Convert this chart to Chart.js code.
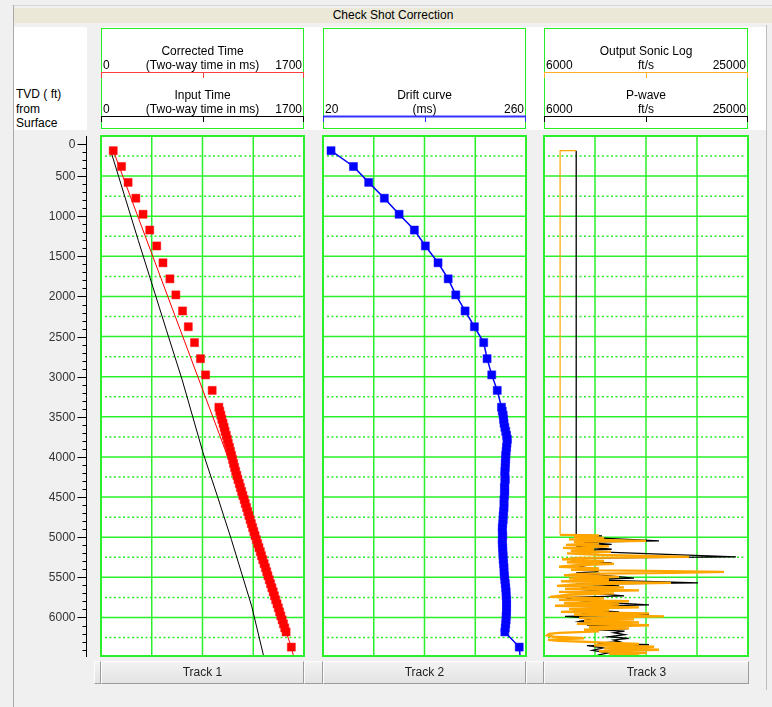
<!DOCTYPE html>
<html>
<head>
<meta charset="utf-8">
<title>Check Shot Correction</title>
<script src="https://cdn.jsdelivr.net/npm/chart.js@4.4.1/dist/chart.umd.min.js"></script>
<style>
  html, body { margin: 0; padding: 0; }
  body {
    width: 772px; height: 707px; position: relative; overflow: hidden;
    background: #f0f0f0;
    font-family: "Liberation Sans", Arial, sans-serif; font-size: 12px; color: #000;
  }
  .abs { position: absolute; }
  #frameLeft { left: 13px; top: 5px; width: 1px; height: 702px; background: #a9a9a9; }
  #frameTop { left: 13px; top: 5px; width: 759px; height: 1px; background: #d8d8d8; }
  #frameRight { left: 766px; top: 25px; width: 1px; height: 665px; background: #bdbdbd; }
  #titleBar {
    left: 14px; top: 8px; width: 758px; height: 15px; line-height: 15px;
    background: #ebe8d8; text-align: center;
  }
  #headerPanel { left: 14px; top: 27px; width: 752px; height: 103px; background: #fff; }
  #headerGap { left: 87px; top: 27px; width: 14px; height: 103px; background: #f0f0f0; }
  #depthLabel { left: 16px; top: 87px; line-height: 14.5px; }
  canvas { position: absolute; left: 0; top: 0; }
  .btn {
    position: absolute; top: 661px; height: 23px; line-height: 21px;
    box-sizing: border-box; text-align: center; color: #222;
    border: 1px solid; border-color: #fdfdfd #9c9c9c #9c9c9c #fdfdfd;
    background: linear-gradient(#f3f3f3, #e3e3e3);
  }
</style>
</head>
<body>
<div id="frameTop" class="abs"></div>
<div id="frameLeft" class="abs"></div>
<div id="titleBar" class="abs">Check Shot Correction</div>
<div id="headerPanel" class="abs"></div>
<div id="headerGap" class="abs"></div>
<div id="frameRight" class="abs"></div>
<div id="depthLabel" class="abs">TVD ( ft)<br>from<br>Surface</div>

<canvas id="track1" width="772" height="707"></canvas>
<canvas id="track2" width="772" height="707"></canvas>
<canvas id="track3" width="772" height="707"></canvas>

<div class="btn" style="left:94px;width:7px"></div>
<div class="btn" style="left:101px;width:203px">Track 1</div>
<div class="btn" style="left:304px;width:19px"></div>
<div class="btn" style="left:323px;width:203px">Track 2</div>
<div class="btn" style="left:526px;width:18px"></div>
<div class="btn" style="left:544px;width:205px">Track 3</div>

<script>
// depth axis (TVD, ft)
const depthMax = 6480;
const depthLabels = [0, 500, 1000, 1500, 2000, 2500, 3000, 3500, 4000, 4500, 5000, 5500, 6000];
const depthMinorStep = 100;

// track scale ranges
const track1Range = [0, 1700];
const track2Range = [20, 260];
const track3Range = [6000, 25000];

// check shots: depth (ft), corrected two-way time (ms), drift (ms)
const shotDepth = [
  183, 380, 578, 775, 975, 1172, 1370, 1580, 1780, 1980,
  2180, 2377, 2575, 2775, 2977, 3170,
  3380, 3430, 3480, 3530, 3580, 3630, 3680, 3730, 3780, 3830,
  3880, 3930, 3980, 4030, 4080, 4130, 4180, 4230, 4280, 4330,
  4380, 4430, 4480, 4530, 4580, 4630, 4680, 4730, 4780, 4830,
  4880, 4930, 4980, 5030, 5080, 5130, 5180, 5230, 5280, 5330,
  5380, 5430, 5480, 5530, 5580, 5630, 5680, 5730, 5780, 5830,
  5880, 5930, 5980, 6030, 6080, 6130, 6180,
  6369
];
const shotTime = [
  102.5, 172, 227, 292, 352, 408, 467, 519, 577, 627,
  683, 731, 783, 833, 876, 931,
  987, 995, 1004, 1012, 1022, 1031, 1039, 1049, 1058, 1066,
  1076, 1084, 1093, 1102, 1110, 1119, 1128, 1138, 1147, 1158,
  1167, 1178, 1188, 1199, 1208, 1219, 1229, 1239, 1249, 1259,
  1270, 1280, 1290, 1301, 1312, 1323, 1334, 1344, 1355, 1366,
  1377, 1388, 1398, 1409, 1420, 1431, 1442, 1452, 1463, 1474,
  1485, 1496, 1506, 1517, 1528, 1539, 1550,
  1594
];
const shotDrift = [
  29.5, 56, 74, 92.5, 110, 128, 141, 156, 168, 177,
  188, 199, 210, 214, 219.5, 226,
  231, 232, 233, 233.5, 234, 235, 236, 237, 238, 237.5,
  237, 236.5, 236, 236, 235.5, 235.5, 235, 235, 235.5, 235,
  234.5, 235, 234.5, 234, 234, 234, 233.5, 233, 233, 232.5,
  232, 232, 232.5, 232, 232, 232.5, 232.5, 233, 233, 233.5,
  234, 234, 234.5, 235, 235.5, 236, 236.5, 236.5, 237, 237,
  237, 237, 236.5, 236.5, 236, 235.5, 235,
  252
];
const driftTailDepth = 6480;
const driftTailValue = 253;

// input time curve (black) and corrected time curve (red)
const inputDepth = [153, 1300, 2420, 3040, 3950, 4490, 5030, 5860, 6480];
const inputTime = [75, 312, 548, 680, 855, 975, 1092, 1262, 1362];
const correctedDepth = [183, 3995, 4300, 5030, 6180, 6369, 6480];
const correctedTime = [102.5, 1061, 1150, 1301, 1550, 1594, 1612];

// output sonic log (orange), ft/s; the first three samples are the flat upper section
const sonicDepth = [
  183, 183, 4970,
  4976, 4995, 5007, 5026, 5045, 5057, 5076, 5094, 5113, 5132,
  5150, 5169, 5182, 5200, 5219, 5244, 5256, 5275, 5294, 5312,
  5331, 5350, 5368, 5387, 5406, 5431, 5443, 5456, 5474, 5493,
  5512, 5530, 5549, 5568, 5587, 5605, 5624, 5643, 5661, 5680,
  5699, 5717, 5742, 5761, 5780, 5798, 5817, 5836, 5854, 5873,
  5892, 5910, 5929, 5948, 5966, 5985, 6004, 6023, 6041, 6060,
  6078, 6097, 6116, 6135, 6153, 6172, 6191, 6203, 6222, 6240,
  6259, 6278, 6290, 6309, 6328, 6346, 6365, 6384, 6402, 6421,
  6440, 6458, 6471
];
const sonicVel = [
  9000, 7500, 7500,
  11120, 8790, 11590, 8330, 15500, 8790, 11120, 8050, 12050, 7770,
  10660, 8520, 12240, 8140, 11120, 19500, 9260, 7680, 11590, 8140,
  12520, 8790, 7400, 11120, 8520, 22760, 17900, 9260, 7860, 12990,
  8330, 12050, 7580, 17830, 8790, 7210, 13450, 7960, 14850, 7400,
  12520, 8330, 6560, 11590, 7400, 13920, 7860, 12990, 7030, 14850,
  8330, 12050, 7580, 15780, 8790, 17180, 9260, 14380, 9730, 14850,
  9070, 15780, 10190, 13920, 9730, 11120, 7400, 6470, 6280, 6930,
  9730, 6370, 7400, 11120, 14850, 10660, 16250, 11590, 16710, 11120,
  15590, 12050, 14850
];
const sonicFlatCount = 3;

// P-wave input log (black), ft/s
const pwaveDepth = [
  183, 4970, 4982, 4995, 5045, 5060, 5070, 5090, 5110, 5150,
  5170, 5244, 5260, 5280, 5300, 5320, 5350, 5400, 5430, 5445,
  5510, 5530, 5550, 5568, 5585, 5605, 5630, 5655, 5680, 5730,
  5750, 5780, 5800, 5842, 5860, 5880, 5900, 5929, 5950, 5966,
  5985, 6010, 6050, 6060, 6080, 6095, 6110, 6125, 6140, 6155,
  6170, 6190, 6215, 6240, 6260, 6280, 6300, 6320, 6340, 6350,
  6380, 6410, 6440, 6470
];
const pwaveVel = [
  9000, 9000, 11400, 9000, 16710, 9700, 10500, 12300, 9000, 12300,
  8500, 23880, 9000, 9500, 8500, 12300, 9000, 10650, 11000, 9000,
  14380, 9500, 15500, 20340, 9000, 13000, 9500, 11590, 9000, 13450,
  8000, 8790, 10000, 15780, 9500, 13000, 9000, 12990, 9500, 15780,
  7960, 10650, 9260, 10660, 13900, 10000, 13900, 10200, 13800, 11000,
  13500, 12500, 13500, 12000, 13900, 12500, 13000, 11000, 15780, 10000,
  11500, 10500, 12000, 11000
];

const gridGreen = '#2af02a';
const FONT = '12px "Liberation Sans", Arial, sans-serif';

function pts(depths, values) {
  return depths.map((d, i) => ({ x: values[i], y: d }));
}

// white plot area, grid, border, the header block above and (track 1) the depth axis
const trackDecor = {
  id: 'trackDecor',
  beforeDraw(chart) {
    const a = chart.chartArea, ctx = chart.ctx;
    const xs = chart.scales.x, ys = chart.scales.y;
    ctx.save();
    ctx.fillStyle = '#fff';
    ctx.fillRect(a.left, a.top, a.right - a.left, a.bottom - a.top);

    ctx.strokeStyle = gridGreen;
    ctx.lineWidth = 1.5;
    for (let k = 1; k < 4; k++) {
      const px = xs.getPixelForValue(xs.min + k * (xs.max - xs.min) / 4);
      ctx.beginPath(); ctx.moveTo(px, a.top); ctx.lineTo(px, a.bottom); ctx.stroke();
    }
    const step = depthLabels[1] - depthLabels[0];
    depthLabels.forEach(d => {
      if (d > 0) {
        const py = ys.getPixelForValue(d);
        ctx.setLineDash([]);
        ctx.beginPath(); ctx.moveTo(a.left, py); ctx.lineTo(a.right, py); ctx.stroke();
      }
      if (d + step / 2 < depthMax) {
        const py = ys.getPixelForValue(d + step / 2);
        ctx.setLineDash([2, 2.5]);
        ctx.beginPath(); ctx.moveTo(a.left + 4, py); ctx.lineTo(a.right - 2, py); ctx.stroke();
      }
    });
    ctx.restore();
  },
  afterDraw(chart, args, opts) {
    const a = chart.chartArea, ctx = chart.ctx;
    const xs = chart.scales.x, ys = chart.scales.y;
    ctx.save();
    ctx.strokeStyle = gridGreen;
    ctx.lineWidth = 2;
    ctx.strokeRect(a.left, a.top, a.right - a.left, a.bottom - a.top);

    // header box
    ctx.lineWidth = 1;
    ctx.strokeStyle = '#22ee22';
    ctx.strokeRect(a.left + 0.5, 28.5, a.right - a.left - 1, 100);
    ctx.font = FONT;
    ctx.fillStyle = '#000';
    (opts.header || []).forEach(h => {
      const off = h.row * 44;
      const mid = (a.left + a.right) / 2;
      ctx.textBaseline = 'middle';
      ctx.textAlign = 'center';
      ctx.fillText(h.title, mid, 51.5 + off);
      ctx.fillText(h.unit, mid, 66 + off);
      ctx.textAlign = 'left';
      ctx.fillText(String(xs.min), a.left + 2, 66 + off);
      ctx.textAlign = 'right';
      ctx.fillText(String(xs.max), a.right - 2, 66 + off);

      const ly = 72.5 + off;
      ctx.strokeStyle = h.color;
      ctx.lineWidth = h.width || 1;
      ctx.beginPath(); ctx.moveTo(a.left, ly); ctx.lineTo(a.right, ly); ctx.stroke();
      ctx.lineWidth = 1;
      [xs.min, (xs.min + xs.max) / 2, xs.max].forEach(v => {
        const px = Math.min(Math.max(Math.round(xs.getPixelForValue(v)) + 0.5, a.left + 0.5), a.right - 0.5);
        ctx.beginPath(); ctx.moveTo(px, ly); ctx.lineTo(px, ly + 5.5); ctx.stroke();
      });
    });

    if (opts.depthAxis) {
      const ax = a.left - 14.5;
      ctx.strokeStyle = '#000';
      ctx.lineWidth = 1;
      ctx.beginPath(); ctx.moveTo(ax, a.top); ctx.lineTo(ax, a.bottom + 1); ctx.stroke();
      const step = depthLabels[1] - depthLabels[0];
      for (let d = depthMinorStep; d < depthMax; d += depthMinorStep) {
        if (d % step === 0) continue;
        const py = Math.round(ys.getPixelForValue(d)) + 0.5;
        ctx.beginPath(); ctx.moveTo(ax - 4, py); ctx.lineTo(ax, py); ctx.stroke();
      }
      ctx.fillStyle = '#333';
      ctx.textAlign = 'right';
      ctx.textBaseline = 'middle';
      depthLabels.forEach(d => {
        const py = Math.round(Math.max(ys.getPixelForValue(d), a.top + 8)) + 0.5;
        ctx.beginPath(); ctx.moveTo(ax - 9, py); ctx.lineTo(ax, py); ctx.stroke();
        ctx.fillText(String(d), ax - 11, py);
      });
    }
    ctx.restore();
  }
};

function trackChart(id, range, datasets, decor, padLeft, padRight) {
  return new Chart(document.getElementById(id), {
    type: 'scatter',
    data: { datasets: datasets },
    options: {
      responsive: false,
      animation: false,
      events: [],
      layout: { padding: { left: padLeft, right: padRight, top: 136, bottom: 51 } },
      scales: {
        x: { type: 'linear', min: range[0], max: range[1], display: false },
        y: { type: 'linear', min: 0, max: depthMax, reverse: true, display: false }
      },
      elements: { line: { tension: 0 } },
      plugins: {
        legend: { display: false },
        tooltip: { enabled: false },
        trackDecor: decor
      }
    },
    plugins: [trackDecor]
  });
}

// Track 1: check shot times over the input and corrected time curves
trackChart('track1', track1Range, [
  {
    data: pts(shotDepth, shotTime),
    pointStyle: 'rect', pointRadius: 5.7,
    backgroundColor: '#ff0000', borderColor: '#ff1010', borderWidth: 0.5
  },
  {
    data: pts(correctedDepth, correctedTime), showLine: true,
    borderColor: '#ff0000', borderWidth: 1, pointRadius: 0
  },
  {
    data: pts(inputDepth, inputTime), showLine: true,
    borderColor: '#000', borderWidth: 1, pointRadius: 0
  }
], {
  depthAxis: true,
  header: [
    { title: 'Corrected Time', unit: '(Two-way time in ms)', color: '#ff4040', row: 0 },
    { title: 'Input Time', unit: '(Two-way time in ms)', color: '#000', row: 1 }
  ]
}, 101, 468);

// Track 2: drift curve
trackChart('track2', track2Range, [
  {
    data: pts(shotDepth, shotDrift),
    pointStyle: 'rect', pointRadius: 5.7,
    backgroundColor: '#0000ff', borderColor: '#1010ff', borderWidth: 0.5
  },
  {
    data: pts(shotDepth.concat([driftTailDepth]), shotDrift.concat([driftTailValue])),
    showLine: true, borderColor: '#0000ff', borderWidth: 1.5, pointRadius: 0
  }
], {
  header: [
    { title: 'Drift curve', unit: '(ms)', color: '#3333ff', width: 2, row: 1 }
  ]
}, 323, 246);

// Track 3: output sonic log over the P-wave log (flat section drawn thin)
const sonicPts = pts(sonicDepth, sonicVel);
trackChart('track3', track3Range, [
  {
    data: sonicPts.slice(0, sonicFlatCount), showLine: true,
    borderColor: '#ffa500', borderWidth: 1.2, pointRadius: 0
  },
  {
    data: sonicPts.slice(sonicFlatCount - 1), showLine: true,
    borderColor: '#ffa500', borderWidth: 2.3, pointRadius: 0
  },
  {
    data: pts(pwaveDepth, pwaveVel), showLine: true,
    borderColor: '#000', borderWidth: 1.3, pointRadius: 0
  }
], {
  header: [
    { title: 'Output Sonic Log', unit: 'ft/s', color: '#ffb020', row: 0 },
    { title: 'P-wave', unit: 'ft/s', color: '#000', row: 1 }
  ]
}, 544, 24);
</script>
</body>
</html>
